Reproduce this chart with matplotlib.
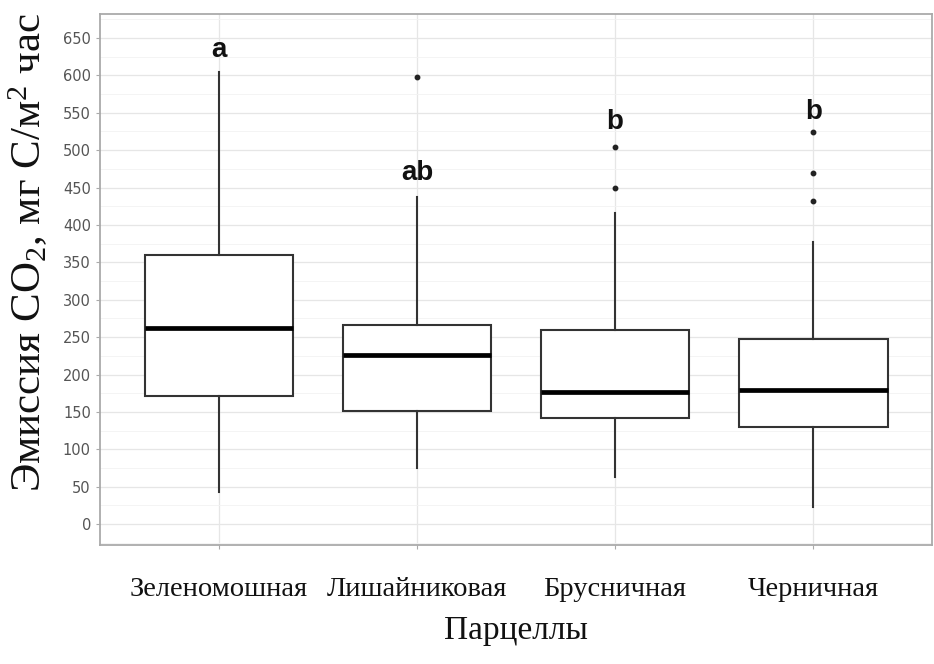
import matplotlib
matplotlib.use("Agg")
import matplotlib.pyplot as plt
from matplotlib.ticker import MultipleLocator

# values
categories = ["Зеленомошная", "Лишайниковая", "Брусничная", "Черничная"]
whislo = [43, 75, 63, 23]
q1 = [172, 151, 142, 130]
med = [262, 226, 177, 180]
q3 = [360, 266, 259, 247]
whishi = [605, 437, 416, 377]
fliers = [[], [598], [504, 449], [524, 469, 432]]
letters = ["a", "ab", "b", "b"]
letter_y = [634, 469, 537, 551]

stats = []
for i in range(len(categories)):
    stats.append({"whislo": whislo[i], "q1": q1[i], "med": med[i], "q3": q3[i],
                  "whishi": whishi[i], "fliers": fliers[i]})

plt.rcParams["mathtext.fontset"] = "custom"
plt.rcParams["mathtext.rm"] = "Liberation Serif"
plt.rcParams["mathtext.it"] = "Liberation Serif:italic"

fig = plt.figure(figsize=(9.34, 6.64), dpi=100)
ax = fig.add_axes([0.107, 0.179, 0.891, 0.800])

pos = list(range(1, len(categories) + 1))
ax.bxp(stats, positions=pos, widths=0.75, showcaps=False, patch_artist=True,
       boxprops=dict(facecolor="white", edgecolor="#333333", linewidth=1.5),
       whiskerprops=dict(color="#333333", linewidth=1.5),
       medianprops=dict(color="black", linewidth=3.4),
       flierprops=dict(marker="o", markersize=3.2, markerfacecolor="#222222",
                       markeredgecolor="#222222"),
       zorder=3)

for x, t, y in zip(pos, letters, letter_y):
    ax.text(x, y, t, ha="center", va="center", fontsize=20, fontweight="bold",
            family="Liberation Sans", color="#111111", zorder=4)

ax.set_xlim(0.4, 4.6)
ax.set_ylim(-28, 682)
ax.yaxis.set_major_locator(MultipleLocator(50))
ax.yaxis.set_minor_locator(MultipleLocator(25))
ax.grid(which="major", color="#e6e6e6", linewidth=0.9, zorder=0)
ax.grid(which="minor", color="#f2f2f2", linewidth=0.6, zorder=0)
ax.set_axisbelow(True)
for s in ax.spines.values():
    s.set_color("#aaaaaa")
    s.set_linewidth(1.3)

ax.set_xticks(pos)
ax.set_xticklabels(categories, family="Liberation Serif", fontsize=20.5, color="#111111")
ax.tick_params(axis="x", length=3, color="#aaaaaa", pad=20)
ax.tick_params(axis="y", which="major", length=3, color="#aaaaaa", labelsize=10.5,
               labelcolor="#555555")
ax.tick_params(axis="y", which="minor", length=0)

ax.set_xlabel("Парцеллы", family="Liberation Serif", fontsize=24, color="#111111", labelpad=10)
ax.set_ylabel(r"Эмиссия CO$_2$, мг C/м$^2$ час", family="Liberation Serif", fontsize=31,
              color="#111111")
ax.yaxis.set_label_coords(-0.06, 0.55)

fig.savefig("out.png", dpi=100)
